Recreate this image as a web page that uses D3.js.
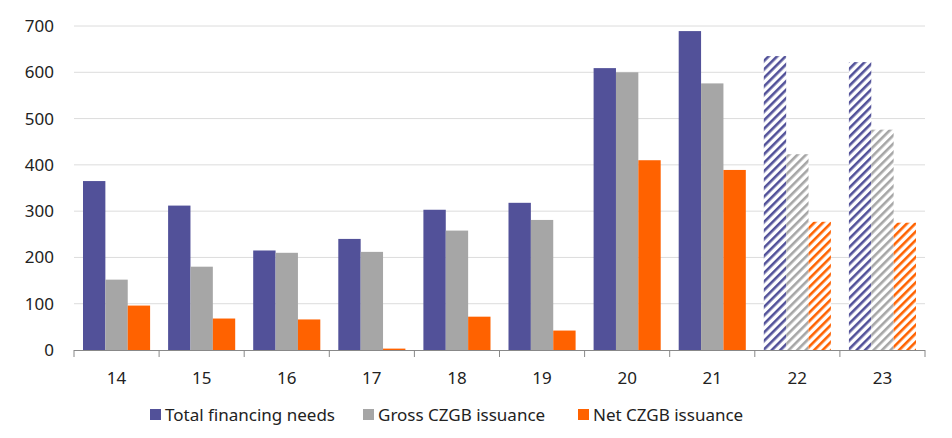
<!DOCTYPE html>
<html>
<head>
<meta charset="utf-8">
<script src="https://cdn.jsdelivr.net/npm/d3@7"></script>
<style>
  body { margin: 0; background: #fff; }
  text { font-family: "Noto Sans", sans-serif; fill: #222; }
</style>
</head>
<body>
<svg id="chart" width="952" height="438"></svg>
<script>
var years = ["14", "15", "16", "17", "18", "19", "20", "21", "22", "23"]
var forecast = ["22", "23"]
var seriesNames = ["Total financing needs", "Gross CZGB issuance", "Net CZGB issuance"]
var totalNeeds = [365, 312, 215, 240, 303, 318, 609, 689, 635, 622]
var grossIssuance = [152, 180, 210, 212, 258, 281, 600, 576, 423, 476]
var netIssuance = [96, 68, 66, 3, 72, 42, 410, 389, 277, 275]
var yTicks = [0, 100, 200, 300, 400, 500, 600, 700]
var colors = ["#525199", "#a6a6a6", "#ff6200"]

var series = [totalNeeds, grossIssuance, netIssuance]
var svg = d3.select("#chart")
var m = { left: 74, right: 925, top: 26, bottom: 350 }

var x = d3.scaleBand().domain(years).range([m.left, m.right])
var xs = d3.scaleBand().domain([0, 1, 2]).range([9, x.bandwidth() - 9])
var y = d3.scaleLinear().domain([0, 700]).range([m.bottom, m.top])

// hatch patterns for forecast years
var defs = svg.append("defs")
colors.forEach(function(c, i) {
  var p = defs.append("pattern").attr("id", "hatch" + i)
    .attr("patternUnits", "userSpaceOnUse").attr("width", 6).attr("height", 6)
    .attr("patternTransform", "rotate(45)")
  p.append("rect").attr("width", 6).attr("height", 6).attr("fill", "#fff")
  p.append("rect").attr("width", 2.6).attr("height", 6).attr("fill", c)
})

// grid
svg.append("g").selectAll("line").data(yTicks.slice(1)).join("line")
  .attr("x1", m.left).attr("x2", m.right)
  .attr("y1", function(d) { return y(d) }).attr("y2", function(d) { return y(d) })
  .attr("stroke", "#dcdcdc").attr("stroke-width", 1)

svg.append("g").selectAll("text").data(yTicks).join("text")
  .attr("x", 54).attr("y", function(d) { return y(d) + 6 })
  .attr("text-anchor", "end").attr("font-size", 17).text(function(d) { return d })

// bars
series.forEach(function(vals, si) {
  svg.append("g").selectAll("rect").data(years).join("rect")
    .attr("x", function(d) { return x(d) + xs(si) })
    .attr("width", xs.bandwidth())
    .attr("y", function(d, i) { return y(vals[i]) })
    .attr("height", function(d, i) { return y(0) - y(vals[i]) })
    .attr("fill", function(d) { return forecast.includes(d) ? "url(#hatch" + si + ")" : colors[si] })
})

// x axis
svg.append("line").attr("x1", m.left).attr("x2", m.right)
  .attr("y1", m.bottom + 0.5).attr("y2", m.bottom + 0.5).attr("stroke", "#888")
svg.append("g").selectAll("line").data(years.concat(["end"])).join("line")
  .attr("x1", function(d) { return d === "end" ? m.right : x(d) })
  .attr("x2", function(d) { return d === "end" ? m.right : x(d) })
  .attr("y1", m.bottom).attr("y2", m.bottom + 7).attr("stroke", "#888")
svg.append("g").selectAll("text").data(years).join("text")
  .attr("x", function(d) { return x(d) + x.bandwidth() / 2 }).attr("y", 384)
  .attr("text-anchor", "middle").attr("font-size", 17).text(function(d) { return d })

// legend
var lx = [150, 363, 578]
seriesNames.forEach(function(n, i) {
  svg.append("rect").attr("x", lx[i]).attr("y", 409).attr("width", 11).attr("height", 11).attr("fill", colors[i])
  svg.append("text").attr("x", lx[i] + 15).attr("y", 421).attr("font-size", 17).text(n)
})
</script>
</body>
</html>
